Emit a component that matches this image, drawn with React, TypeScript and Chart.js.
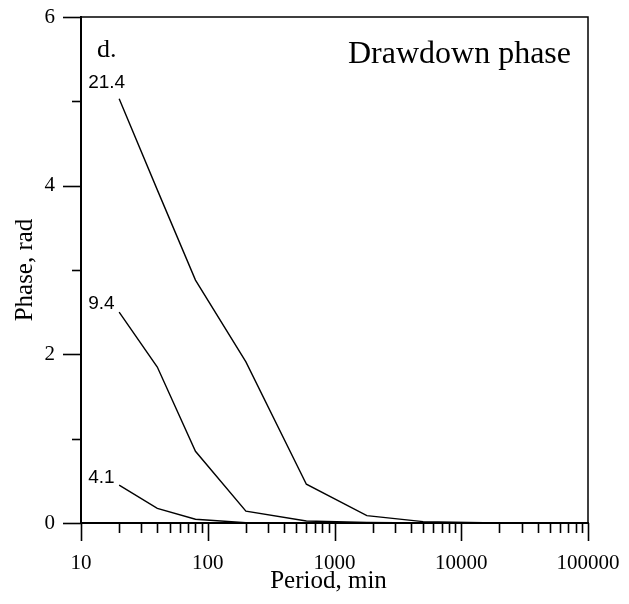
import React, { useEffect, useRef } from 'react';
import { Chart, registerables } from 'chart.js';

Chart.register(...registerables);

// Period (min) at which phase was computed
const periods = [20, 40, 80, 200, 600, 1800, 5000, 15000];
// Phase (rad) for each curve
const phase214 = [5.03, 3.95, 2.88, 1.91, 0.46, 0.087, 0.016, 0.003];
const phase94 = [2.5, 1.85, 0.85, 0.14, 0.024, 0.006, 0.002, 0.0005];
const phase41 = [0.45, 0.174, 0.044, 0.003, 0.001, 0, 0, 0];
const curveLabels = ['21.4', '9.4', '4.1'];
const curveLabelDy = [-11, -3, -2];

// Axis ticks
const xMajorTicks = [10, 100, 1000, 10000, 100000];
const xMinorMultipliers = [2, 3, 4, 5, 6, 7, 8, 9];
const yMajorTicks = [0, 2, 4, 6];
const yMinorTicks = [1, 3, 5];

const panelLetter = 'd.';
const panelTitle = 'Drawdown phase';
const xTitle = 'Period, min';
const yTitle = 'Phase, rad';

const SERIF = "'Liberation Serif', 'Times New Roman', serif";
const SANS = "'Liberation Sans', Arial, sans-serif";

const xAllTicks: number[] = [];
xMajorTicks.forEach((m, i) => {
  xAllTicks.push(m);
  if (i < xMajorTicks.length - 1) xMinorMultipliers.forEach((k) => xAllTicks.push(m * k));
});
const yAllTicks = [...yMajorTicks, ...yMinorTicks].sort((a, b) => a - b);

const toPts = (ys: number[]) => periods.map((x, i) => ({ x, y: ys[i] }));

const decorPlugin = {
  id: 'decor',
  afterDraw(chart: any) {
    const { ctx, chartArea, scales } = chart;
    const xs = scales.x;
    const ys = scales.y;
    ctx.save();
    ctx.strokeStyle = '#000';
    // top/right frame
    ctx.lineWidth = 1.5;
    ctx.beginPath();
    ctx.moveTo(chartArea.left, chartArea.top);
    ctx.lineTo(chartArea.right, chartArea.top);
    ctx.lineTo(chartArea.right, chartArea.bottom);
    ctx.stroke();
    // x tick marks
    ctx.lineWidth = 1.6;
    xAllTicks.forEach((v) => {
      const px = Math.round(xs.getPixelForValue(v)) + 0.5;
      const len = xMajorTicks.includes(v) ? 18 : 10;
      ctx.beginPath();
      ctx.moveTo(px, chartArea.bottom);
      ctx.lineTo(px, chartArea.bottom + len);
      ctx.stroke();
    });
    // y tick marks
    yAllTicks.forEach((v) => {
      const py = Math.round(ys.getPixelForValue(v)) + 0.5;
      const len = yMajorTicks.includes(v) ? 18 : 9;
      ctx.beginPath();
      ctx.moveTo(chartArea.left, py);
      ctx.lineTo(chartArea.left - len, py);
      ctx.stroke();
    });
    // x axis title
    ctx.fillStyle = '#000';
    ctx.textBaseline = 'alphabetic';
    ctx.font = `25px ${SERIF}`;
    ctx.textAlign = 'center';
    ctx.fillText(xTitle, (chartArea.left + chartArea.right) / 2 - 6, chartArea.bottom + 65);
    // panel texts
    ctx.font = `26px ${SERIF}`;
    ctx.textAlign = 'left';
    ctx.fillText(panelLetter, chartArea.left + 16, chartArea.top + 40);
    ctx.font = `32px ${SERIF}`;
    ctx.textAlign = 'right';
    ctx.fillText(panelTitle, chartArea.right - 17, chartArea.top + 46);
    // curve labels
    ctx.font = `19px ${SANS}`;
    ctx.textAlign = 'left';
    const firsts = [phase214[0], phase94[0], phase41[0]];
    curveLabels.forEach((t, i) => {
      const px = xs.getPixelForValue(periods[0]) - 31;
      const py = ys.getPixelForValue(firsts[i]) + curveLabelDy[i];
      ctx.fillText(t, px, py);
    });
    ctx.restore();
  },
};

export default function App() {
  const ref = useRef<HTMLCanvasElement>(null);
  useEffect(() => {
    if (!ref.current) return;
    const lineStyle = {
      borderColor: '#000',
      backgroundColor: '#000',
      borderWidth: 1.4,
      pointRadius: 0,
      tension: 0,
      fill: false,
    };
    const chart = new Chart(ref.current, {
      type: 'line',
      data: {
        datasets: [
          { label: curveLabels[0], data: toPts(phase214), ...lineStyle },
          { label: curveLabels[1], data: toPts(phase94), ...lineStyle },
          { label: curveLabels[2], data: toPts(phase41), ...lineStyle },
        ],
      },
      options: {
        responsive: false,
        animation: false,
        layout: { padding: { left: 0, top: 17, right: 41, bottom: 0 } },
        plugins: { legend: { display: false }, tooltip: { enabled: false } },
        scales: {
          x: {
            type: 'logarithmic',
            position: 'bottom',
            min: 10,
            max: 100000,
            afterBuildTicks: (s: any) => {
              s.ticks = xAllTicks.map((v) => ({ value: v }));
            },
            afterFit: (s: any) => {
              s.height = 81;
              s.paddingLeft = 0;
              s.paddingRight = 0;
            },
            ticks: {
              autoSkip: false,
              maxRotation: 0,
              minRotation: 0,
              padding: 20,
              color: '#000',
              font: { family: SERIF, size: 21 },
              callback: (v: any) => (xMajorTicks.includes(Number(v)) ? String(v) : ''),
            },
            grid: { display: false },
            border: { display: true, color: '#000', width: 2 },
            title: { display: false },
          },
          y: {
            type: 'linear',
            min: 0,
            max: 6,
            afterBuildTicks: (s: any) => {
              s.ticks = yAllTicks.map((v) => ({ value: v }));
            },
            afterFit: (s: any) => {
              s.width = 81;
              s.paddingTop = 0;
              s.paddingBottom = 0;
            },
            ticks: {
              autoSkip: false,
              padding: 18,
              color: '#000',
              font: { family: SERIF, size: 21 },
              callback: (v: any) => (yMajorTicks.includes(Number(v)) ? String(v) : ''),
            },
            grid: { display: false },
            border: { display: true, color: '#000', width: 2 },
            title: {
              display: true,
              text: yTitle,
              color: '#000',
              font: { family: SERIF, size: 25 },
              padding: { top: 10, bottom: 0 },
            },
          },
        },
      },
      plugins: [decorPlugin],
    } as any);
    return () => chart.destroy();
  }, []);
  return (
    <div style={{ position: 'absolute', left: 0, top: 0, width: 629, height: 604, background: '#fff' }}>
      <canvas ref={ref} width={629} height={604} style={{ display: 'block' }} />
    </div>
  );
}
